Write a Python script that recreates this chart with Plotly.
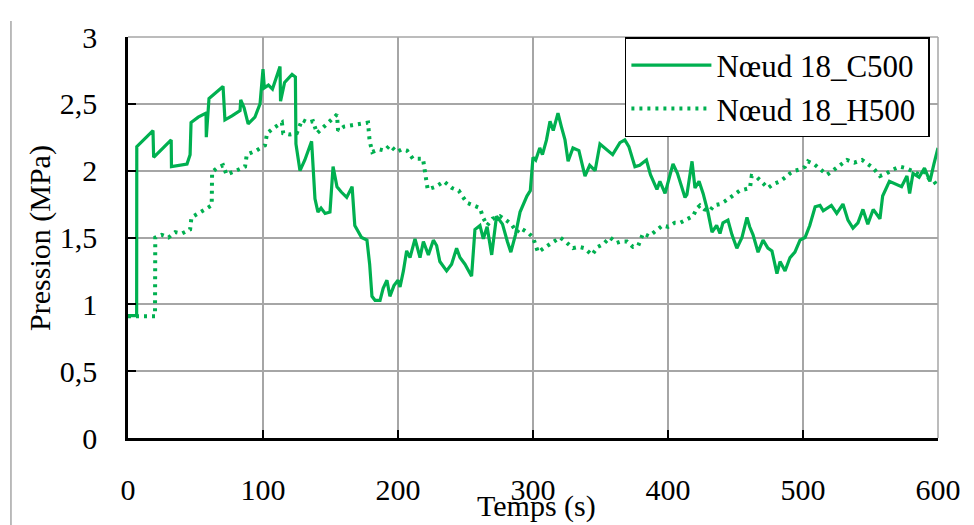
"""Pression au nœud 18 : C500 vs H500."""

import plotly.graph_objects as go

# Nœud 18_C500 (trait plein)
t_c500 = [0, 6.4, 6.5, 18.5, 19, 32, 32.2, 38, 43.7, 46, 46.7, 52, 57.8, 58, 60, 70.4, 71.8, 77, 83, 83.5,
          86, 89, 94, 97.8, 100, 101, 104, 107, 112.6, 113, 116, 121.5, 124, 124.4, 127.4, 131, 136, 138.5,
          140.7, 143, 146, 149.6, 151.9, 154.8, 158, 162, 166, 168, 173, 177, 179, 180.7, 183, 186.7, 189,
          191.8, 194, 197, 200, 201.5, 204, 206.4, 208.9, 212.6, 215, 216.3, 218.8, 222.5, 226.2, 228.6, 231,
          236, 239.7, 243.4, 245.9, 249.6, 254.5, 257, 260.7, 263.2, 266, 269.4, 273, 277.4, 281, 283.6, 287,
          290.4, 295.5, 298, 300, 302, 305, 307, 310, 312.6, 315, 318.5, 321, 323.7, 326, 329.6, 334, 338.5,
          342, 346, 349.6, 354, 359, 364.4, 368, 371, 375.5, 379, 384, 387, 391.8, 394, 397.8, 403.7, 407,
          412.6, 414, 417.8, 420, 423, 426, 429.6, 432.6, 436, 438.5, 440.7, 444.4, 447.4, 451, 454.8, 458.5,
          460.5, 463, 466.7, 470.4, 474, 477, 480.7, 483, 486.7, 490.4, 494, 497.8, 501.5, 505, 509, 512.6,
          515, 517.8, 521, 525, 529.6, 533.3, 537, 540.7, 544.4, 548, 552, 557, 559, 564, 568, 573, 577, 579,
          581.5, 586, 590, 594, 597, 599, 600]
p_c500 = [0.915, 0.915, 2.18, 2.30, 2.10, 2.23, 2.03, 2.04, 2.05, 2.12, 2.36, 2.40, 2.43, 2.25, 2.54, 2.63, 2.38,
          2.41, 2.45, 2.53, 2.47, 2.35, 2.40, 2.50, 2.76, 2.62, 2.64, 2.61, 2.78, 2.52, 2.66, 2.72, 2.70, 2.20,
          2.00, 2.08, 2.22, 1.79, 1.69, 1.72, 1.68, 1.69, 2.03, 1.88, 1.84, 1.80, 1.88, 1.59, 1.50, 1.48, 1.30,
          1.06, 1.03, 1.03, 1.12, 1.18, 1.06, 1.14, 1.18, 1.13, 1.25, 1.40, 1.35, 1.49, 1.40, 1.35, 1.47, 1.37,
          1.48, 1.44, 1.32, 1.25, 1.30, 1.42, 1.35, 1.30, 1.21, 1.56, 1.59, 1.49, 1.58, 1.37, 1.66, 1.60, 1.47,
          1.39, 1.52, 1.69, 1.81, 1.85, 2.10, 2.08, 2.17, 2.12, 2.23, 2.37, 2.30, 2.43, 2.33, 2.23, 2.07, 2.17,
          2.15, 1.96, 2.04, 2.00, 2.20, 2.16, 2.12, 2.21, 2.23, 2.18, 2.03, 2.04, 2.08, 1.97, 1.86, 1.92, 1.83,
          2.05, 1.98, 1.80, 1.82, 2.07, 1.87, 1.92, 1.83, 1.69, 1.54, 1.59, 1.53, 1.61, 1.63, 1.52, 1.42, 1.50,
          1.65, 1.58, 1.52, 1.39, 1.48, 1.42, 1.40, 1.23, 1.32, 1.25, 1.35, 1.39, 1.48, 1.50, 1.59, 1.73, 1.74,
          1.70, 1.72, 1.74, 1.68, 1.75, 1.63, 1.57, 1.61, 1.71, 1.60, 1.71, 1.64, 1.81, 1.92, 1.90, 1.88, 1.96,
          1.83, 1.98, 1.95, 2.02, 1.92, 2.05, 2.15, 2.17]

# Nœud 18_H500 (pointillés)
t_h500 = [0, 20, 20.2, 25, 30, 35, 40, 46, 47, 52, 57, 62, 62.3, 66, 70.4, 73, 80, 86.7, 88, 95, 101.5, 103, 108,
          114, 115, 120, 125, 129, 133, 137, 140, 145, 150, 154.8, 155.6, 160, 166, 172, 177.8, 179, 181, 186,
          190, 194, 199, 203, 206.7, 211, 218.5, 220, 222, 228, 234, 240, 245, 251, 256, 260.7, 263, 266, 270,
          275.5, 280, 284, 288, 290.4, 294, 297, 300, 303.7, 308, 311, 315, 320, 324, 329.6, 334, 338, 343.7,
          348, 352, 357, 362, 365, 369.6, 374, 378, 381.5, 386, 391, 396, 400, 405, 409, 414, 418.5, 421.5,
          423.7, 427, 431, 434, 438.5, 442, 446, 450, 453, 457, 460.7, 462, 466, 470, 474, 478, 483, 487,
          490.4, 494, 497.8, 501.5, 503.7, 508, 512, 517.8, 522, 527, 532.6, 538, 543.7, 548, 552, 557, 562,
          567, 571.8, 576, 581, 586.7, 590, 594, 597, 600]
p_h500 = [0.91, 0.91, 1.50, 1.52, 1.50, 1.54, 1.53, 1.56, 1.65, 1.68, 1.71, 1.74, 1.99, 2.02, 2.04, 1.97, 2.00,
          2.03, 2.12, 2.15, 2.19, 2.28, 2.32, 2.36, 2.28, 2.27, 2.28, 2.38, 2.36, 2.37, 2.28, 2.33, 2.38, 2.42,
          2.30, 2.33, 2.34, 2.35, 2.36, 2.22, 2.14, 2.16, 2.15, 2.19, 2.14, 2.16, 2.15, 2.09, 2.09, 1.99, 1.86,
          1.88, 1.92, 1.87, 1.85, 1.76, 1.74, 1.72, 1.65, 1.59, 1.64, 1.66, 1.63, 1.60, 1.54, 1.57, 1.55, 1.53,
          1.50, 1.39, 1.42, 1.44, 1.47, 1.50, 1.47, 1.42, 1.43, 1.42, 1.37, 1.43, 1.45, 1.50, 1.46, 1.47, 1.47,
          1.43, 1.44, 1.53, 1.51, 1.55, 1.59, 1.58, 1.61, 1.61, 1.64, 1.66, 1.72, 1.74, 1.71, 1.70, 1.74, 1.75,
          1.77, 1.80, 1.83, 1.85, 1.86, 1.87, 1.96, 1.95, 1.91, 1.87, 1.90, 1.92, 1.95, 1.98, 2.00, 2.01, 2.03,
          2.07, 2.05, 2.02, 1.97, 2.00, 2.04, 2.08, 2.06, 2.08, 2.05, 2.02, 1.96, 1.98, 2.01, 2.03, 2.02, 2.00,
          1.97, 1.99, 1.93, 1.92, 1.88]

GREEN = "#00B050"
GRID = "#A6A6A6"
FONT = "Liberation Serif, Times New Roman, serif"

fig = go.Figure()
fig.add_trace(
    go.Scatter(x=t_c500, y=p_c500, mode="lines", name="Nœud 18_C500\u00a0",
               line=dict(color=GREEN, width=3.2))
)
fig.add_trace(
    go.Scatter(x=t_h500, y=p_h500, mode="lines", name="Nœud 18_H500\u00a0",
               line=dict(color=GREEN, width=4, dash="3px,5px"))
)

# la page a une marge de 8 px : on décale tout de -8 px
fig.update_layout(
    width=966,
    height=517,
    margin=dict(l=120, r=36, t=19, b=87),
    paper_bgcolor="white",
    plot_bgcolor="white",
    separators=", ",
    font=dict(family=FONT, size=30, color="black"),
    legend=dict(
        x=0.99, y=1.0, xanchor="right", yanchor="top",
        bgcolor="white", bordercolor="black", borderwidth=1.5,
        font=dict(size=31), itemwidth=80, tracegroupgap=0,
    ),
    showlegend=True,
)
fig.update_xaxes(
    range=[0, 600], dtick=100, showgrid=True, gridcolor=GRID, gridwidth=1.5,
    showline=True, linecolor="black", linewidth=2.5, zeroline=False,
    ticks="inside", ticklen=8, tickwidth=2, tickcolor="black", ticklabelstandoff=23,
)
fig.update_yaxes(
    range=[0, 3], dtick=0.5, showgrid=True, gridcolor=GRID, gridwidth=1.5,
    showline=True, linecolor="black", linewidth=2.5, zeroline=False,
    ticks="inside", ticklen=8, tickwidth=2, tickcolor="black", ticklabelstandoff=22,
)
# bords haut / droite en gris
fig.add_shape(type="line", xref="paper", yref="paper", x0=0, x1=1, y0=1, y1=1,
              line=dict(color=GRID, width=1.5))
fig.add_shape(type="line", xref="paper", yref="paper", x0=1, x1=1, y0=0, y1=1,
              line=dict(color=GRID, width=1.5))
# trait vertical de la page à gauche
fig.add_shape(type="line", xref="paper", yref="paper", x0=-0.1445, x1=-0.1445, y0=-0.22, y1=1.04,
              line=dict(color=GRID, width=1.5))
fig.add_annotation(text="Temps (s)", xref="paper", yref="paper", x=0.504, y=-0.17,
                   xanchor="center", yanchor="middle", showarrow=False, font=dict(size=30))
fig.add_annotation(text="Pression (MPa)", xref="paper", yref="paper", x=-0.1086, y=0.499,
                   xanchor="center", yanchor="middle", textangle=-90, showarrow=False,
                   font=dict(size=30))

fig.write_html("out.html")
